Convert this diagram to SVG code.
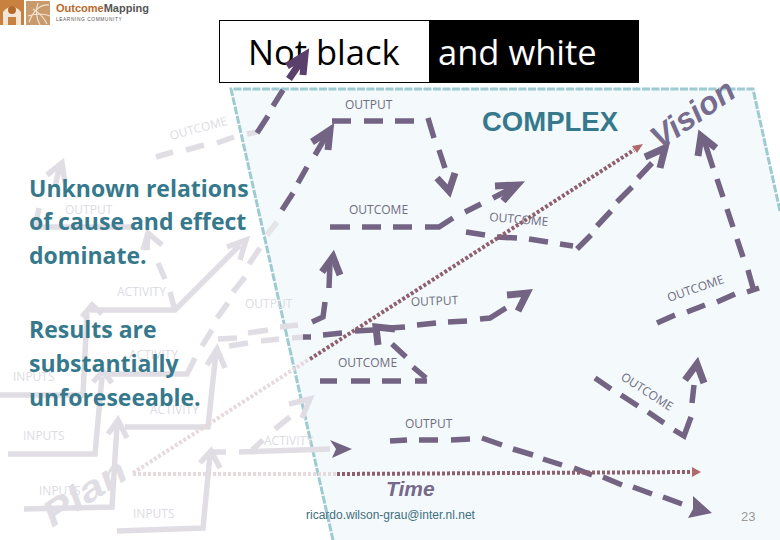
<svg xmlns="http://www.w3.org/2000/svg" width="780" height="540" viewBox="0 0 780 540">
<style>
.g{stroke:#e0dee4;stroke-width:5.5;fill:none;stroke-linejoin:miter}
.p{stroke:#746484;stroke-width:5.5;fill:none;stroke-linejoin:miter}
.a{stroke:#746484;stroke-width:7;fill:none;stroke-linejoin:miter}
.r{stroke:#8f5f6e;stroke-width:4;fill:none;stroke-dasharray:3 2}
.rl{stroke:#e6dadd;stroke-width:4;fill:none;stroke-dasharray:3 2}
.l{font-family:"Open Sans","Noto Sans",sans-serif;font-size:12px;fill:#6d6d80}
.lg{font-family:"Open Sans","Noto Sans",sans-serif;font-size:12px;fill:#dcdce2}
.t{font-family:"Open Sans","Noto Sans",sans-serif;font-weight:700;font-size:23px;fill:#36798c}
.h{font-family:"Open Sans","Noto Sans",sans-serif;font-size:34.5px}
.v{font-family:"Liberation Sans",Arial,sans-serif;font-weight:700;font-style:italic}
</style>
<g id="complex-zone"><path d="M231 89L753 89L780 211V540H333Z" fill="#f4f9fc"/><path d="M780 211L753 89L231 89L333 540" fill="none" stroke="#9ecbd2" stroke-width="3" stroke-dasharray="8 1.500"/></g>
<g id="logo">
<rect x="0" y="0" width="24" height="25" fill="#c8813f"/><path d="M3 25V12Q12 1 21 12V25H16V17H8V25Z" fill="#f3e6d6"/><circle cx="12" cy="10" r="4" fill="#b5692b"/>
<rect x="26" y="1" width="24" height="24" fill="#c99a6b"/><path d="M29 22Q36 4 49 5M33 9Q42 14 47 24M28 16Q40 12 50 16M38 3Q34 14 40 25" stroke="#f1e3d2" stroke-width="1.200" fill="none"/>
<text x="56" y="12" font-family="Liberation Sans,sans-serif" font-weight="700" font-size="11" fill="#b8692a">Outcome<tspan fill="#555">Mapping</tspan></text>
<text x="56" y="21" font-family="Liberation Sans,sans-serif" font-size="4.800" fill="#555" letter-spacing=".6">LEARNING  COMMUNITY</text>
</g>
<g id="title">
<rect x="219.500" y="20.500" width="210" height="62" fill="#fff" stroke="#000"/><rect x="429" y="20" width="210" height="63" fill="#000"/>
<text class="h" x="248" y="65" fill="#000">Not black</text><text class="h" x="438" y="65" fill="#fff">and white</text>
</g>
<g id="labels-faint">
<text class="lg" transform="translate(171 140) rotate(-15)">OUTCOME</text>
<text class="lg" x="65" y="214">OUTPUT</text>
<text class="lg" x="117" y="296">ACTIVITY</text>
<text class="lg" x="245" y="308">OUTPUT</text>
<text class="lg" x="129" y="359">ACTIVITY</text>
<text class="lg" x="150" y="414">ACTIVITY</text>
<text class="lg" x="264" y="445">ACTIVITY</text>
<text class="lg" x="13" y="381">INPUTS</text>
<text class="lg" x="23" y="440">INPUTS</text>
<text class="lg" x="39" y="495">INPUTS</text>
<text class="lg" x="133" y="518">INPUTS</text>
</g>
<g id="connectors">
<path class="g" d="M0 395H83L87 313M82 317L92 305L102 314"/>
<path class="g" d="M90 310H175L240 245M227 247L246 240L240 260"/>
<path class="g" d="M174 307L170 292M165 279L158 263M147 250L148 233M143 250L148 233L162 245"/>
<path class="g" d="M8 454H95L102 377M93 382L103 371L112 383"/>
<path class="g" d="M102 374H187L195 358M202 346L212 330M217 318L228 303M233 292L245 277M249 264L260 248"/>
<path class="g" d="M267 235L277 222" opacity=".8"/>
<path class="g" d="M24 509L112 507L117 425M108 434L118 420L127 438"/>
<path class="g" d="M125 427H208L216 352M207 365L217 349L225 368"/>
<path class="g" d="M117 531L203 528L210 455M200 463L211 451L220 468"/>
<path class="g" d="M211 452H226M239 452L330 449"/>
<path class="g" d="M252 450L263 440M275 429L290 417M289 404L310 399L302 418"/>
<path class="g" d="M218 339L237 338M248 333L268 330M280 327L298 325M229 346L248 343M261 341L279 339M292 338L305 337"/>
<path class="g" d="M156 157L173 152M186 150L204 145M217 143L234 137M247 134L257 132"/>
<path class="g" d="M39 208L35 227H133M47 175L62 163L65 183M60 165L55 187"/>
<path class="p" d="M283 90L273 106M268 116L257 133"/>
<path class="a" d="M289 79L304 57M287 66L305 55L303 75" style="stroke:#5a3f6c"/>
<path class="p" d="M282 210L293 193M298 183L307 167M315 155L329 131"/><path class="a" d="M312 142L330 130L328 150"/>
<path class="p" d="M332 121H351M364 121H383M395 121H414M428 118L434 138M439 150L445 168"/><path class="a" d="M437 178L449 191L455 173"/>
<path class="p" d="M330 227H350M362 227H381M393 227H412M425 227H439L453 218M465 212L481 204M493 198L516 186"/><path class="a" d="M495 186L517 185L503 201"/>
<path class="p" d="M466 232L485 235M497 237L517 238M529 239L548 242M560 244L573 246M577 249L591 235M597 226L611 211M617 202L632 187M638 178L652 163"/><path class="a" d="M645 157L665 148L660 168"/>
<path class="p" d="M743 257L737 239M733 227L727 209M723 197L717 179M713 168L704 140"/><path class="a" d="M698 156L701 136L716 148"/>
<path class="p" d="M748 270L753 288M747 292L759 288M735 294L717 302M705 305L687 312M675 315L657 323"/>
<path class="p" d="M595 378L611 389M621 395L638 406M648 412L664 423M674 430L684 436L691 417M692 403L694 385"/><path class="a" d="M685 380L697 364L704 383"/>
<path class="p" d="M303 337H311M323 335L342 333M355 331L373 330M390 328L405 327M417 325L436 323M448 322L467 321M480 319L490 318L506 308"/><path class="a" d="M507 295L527 293L518 311"/>
<path class="p" d="M325 302L323 317L312 322M329 288L330 262"/><path class="a" d="M322 272L333 257L340 275"/>
<path class="a" d="M395 329L376 327L378 345"/><path class="p" d="M392 344L406 357M413 367L426 378"/>
<path class="p" d="M320 381H337M351 381H370M382 381H401M415 381H427"/>
<path class="p" d="M390 441L407 440M419 440H438M451 440L470 439M482 438L502 445M513 449L533 455M543 459L562 465M574 468L592 475M603 477L622 485M633 487L652 494M663 497L682 504"/>
<path d="M693 496L712 513L688 518L693 509Z" fill="#746484"/>
<path d="M330 440L352 449L332 458L336 449Z" fill="#746484"/>
<path class="rl" d="M133 473L308 360"/><path class="r" d="M310 359L634 150"/><path d="M632 146L643 144L637 153Z" fill="#b06a6a"/>
<path class="rl" d="M133 474H337"/><path class="r" d="M337 474L692 472"/><path d="M692 467L701 472L692 477Z" fill="#b06a6a"/>
</g>
<g id="labels">
<text class="l" x="345" y="109">OUTPUT</text>
<text class="l" x="349" y="214">OUTCOME</text>
<text class="l" transform="translate(489 221) rotate(5)">OUTCOME</text>
<text class="l" transform="translate(411 306) rotate(-2)">OUTPUT</text>
<text class="l" x="338" y="367">OUTCOME</text>
<text class="l" x="405" y="428">OUTPUT</text>
<text class="l" transform="translate(669 302) rotate(-19)">OUTCOME</text>
<text class="l" transform="translate(620 379) rotate(33)">OUTCOME</text>
<text class="t" x="29" y="197">Unknown relations</text>
<text class="t" x="29" y="230">of cause and effect</text>
<text class="t" x="29" y="264">dominate.</text>
<text class="t" x="29" y="338">Results are</text>
<text class="t" x="29" y="372">substantially</text>
<text class="t" x="29" y="406">unforeseeable.</text>
<text x="482" y="131" font-family="Liberation Sans,Arial,sans-serif" font-weight="700" font-size="27.500" fill="#36798c">COMPLEX</text>
<text class="v" transform="translate(660 150) rotate(-35)" font-size="32" fill="#776b8e">Vision</text>
<text class="v" transform="translate(52 528) rotate(-33) scale(1.050 .85)" font-size="42" fill="#e0dee4">Plan</text>
<text class="v" x="386" y="496" font-size="21" fill="#756a8a">Time</text>
<text x="306" y="519" font-family="Liberation Sans,Arial,sans-serif" font-size="12" fill="#3f6f7c">ricardo.wilson-grau@inter.nl.net</text>
<text x="741" y="521" font-family="Liberation Sans,Arial,sans-serif" font-size="13" fill="#9a9a9a">23</text>
</g>
</svg>
